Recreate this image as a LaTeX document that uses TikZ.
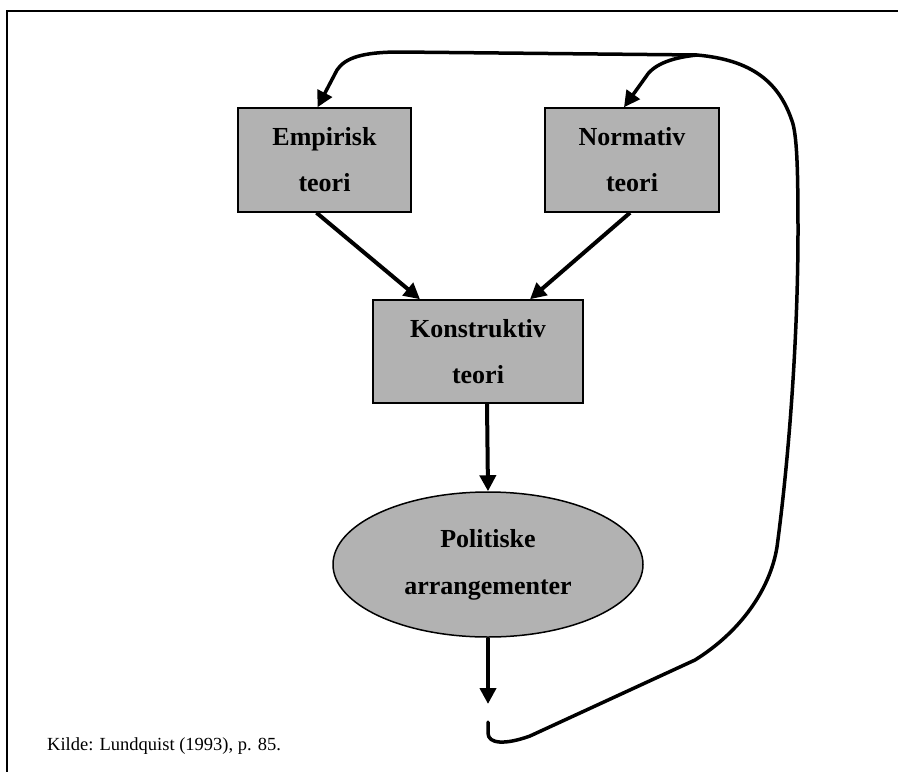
\documentclass[tikz,border=0pt]{standalone}
\usepackage{fontspec}
\setmainfont{Liberation Serif}
\usetikzlibrary{arrows.meta,shapes.geometric}
\tikzset{
  boxnode/.style={draw=black, line width=1.5pt, fill=black!30, rectangle, align=center,
    font=\fontsize{26}{46}\selectfont\bfseries, inner sep=0pt},
  ovalnode/.style={draw=black, line width=1.5pt, fill=black!30, ellipse, align=center,
    font=\fontsize{26}{47}\selectfont\bfseries, inner sep=0pt},
  arr/.style={line width=4pt, -{Triangle[length=16pt,width=16pt]}},
  fb/.style={line width=3.5pt, line join=round, line cap=round},
  framel/.style={line width=2.5pt}
}
\begin{document}
\begin{tikzpicture}[x=1pt,y=-1pt]
\useasboundingbox (0,0) rectangle (898,772);
% frame
\coordinate (fa) at (7,772);
\coordinate (fb) at (7,11);
\coordinate (fc) at (898,11);
\draw[framel] (fa) -- (fb) -- (fc);
% nodes
\node[boxnode, minimum width=173pt, minimum height=104pt] (emp) at (324.5,160) {Empirisk\\teori};
\node[boxnode, minimum width=174pt, minimum height=104pt] (nor) at (632,160) {Normativ\\teori};
\node[boxnode, minimum width=210pt, minimum height=103pt] (kon) at (478,351.5) {Konstruktiv\\teori};
\node[ovalnode, minimum width=310pt, minimum height=145pt] (pol) at (488,564.5) {Politiske\\arrangementer};
\node[font=\fontsize{18.5}{22}\selectfont, anchor=base west, inner sep=0pt] (kilde) at (47,750) {Kilde: Lundquist (1993), p. 85.};
% arrows
\draw[arr] ([xshift=-8pt]emp.south) -- ([xshift=-58pt]kon.north);
\draw[arr] ([xshift=-2pt]nor.south) -- ([xshift=52pt]kon.north);
\draw[arr] ([xshift=9pt]kon.south) -- (pol.north);
\coordinate (gapend) at (488,704);
\draw[arr] (pol.south) -- (gapend);
% feedback loop
\coordinate (fbstart) at (488,722);
\coordinate (split) at (697,55);
\draw[fb, -{Triangle[length=16pt,width=16pt]}] (fbstart) -- (488,733)
  .. controls (488,744) and (505,745) .. (530,736)
  -- (695,660)
  .. controls (740,632) and (770,590) .. (777,547)
  .. controls (790,450) and (798,330) .. (798,231)
  .. controls (798,170) and (797,140) .. (793,124)
  .. controls (780,82) and (752,60) .. (split)
  -- (400,52)
  .. controls (362,52) and (345,58) .. (337,70)
  -- ([xshift=-7pt]emp.north);
\draw[fb, -{Triangle[length=16pt,width=16pt]}] (split)
  .. controls (668,58) and (652,66) .. (645,78)
  -- ([xshift=-8pt]nor.north);
\end{tikzpicture}
\end{document}
